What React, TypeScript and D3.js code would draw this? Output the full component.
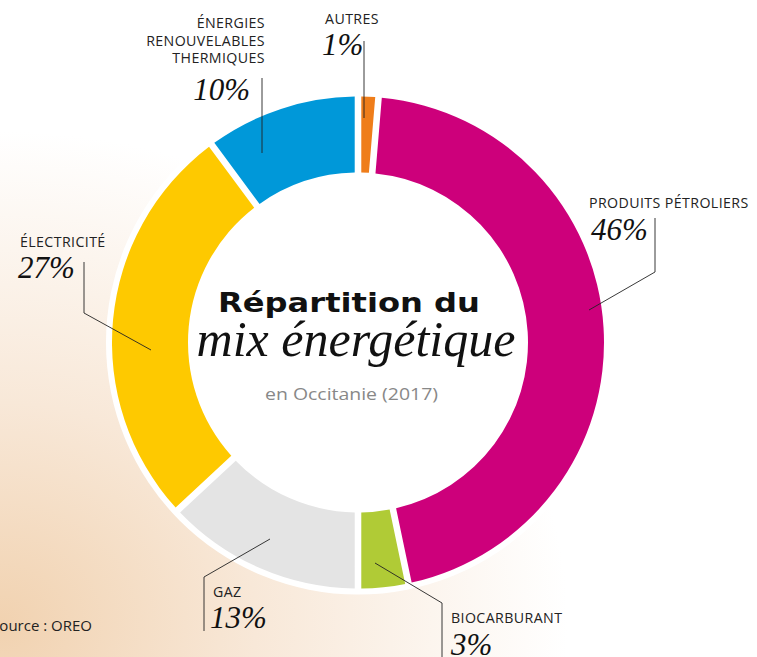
import React from "react";
import * as d3 from "d3";

// values (percent of the final energy mix)
const categories = [
  "Autres",
  "Produits pétroliers",
  "Biocarburant",
  "Gaz",
  "Électricité",
  "Énergies renouvelables thermiques",
];
const shares = [1, 46, 3, 13, 27, 10];
const colors = ["#ef7d1a", "#cd007b", "#b0cb36", "#e4e4e4", "#fec900", "#0098d9"];

// label text: upper-case lines + the percentage
const labelLines = [
  ["AUTRES"],
  ["PRODUITS PÉTROLIERS"],
  ["BIOCARBURANT"],
  ["GAZ"],
  ["ÉLECTRICITÉ"],
  ["ÉNERGIES", "RENOUVELABLES", "THERMIQUES"],
];

// where each label sits and how its leader line runs
const labelLayout = [
  { x: 379, y: 24, anchor: "end", pctX: 322, pctY: 55, pctAnchor: "start", line: [[364, 41], [364, 118]] },
  { x: 589, y: 208, anchor: "start", pctX: 591, pctY: 240, pctAnchor: "start", line: [[655, 218], [655, 272], [589, 310]] },
  { x: 451, y: 623, anchor: "start", pctX: 451, pctY: 655, pctAnchor: "start", line: [[375, 563], [442, 603], [442, 660]] },
  { x: 213, y: 597, anchor: "start", pctX: 210, pctY: 628, pctAnchor: "start", line: [[270, 539], [204, 577], [204, 631]] },
  { x: 20, y: 247, anchor: "start", pctX: 18, pctY: 278, pctAnchor: "start", line: [[84, 262], [84, 313], [151, 350]] },
  { x: 265, y: 28, anchor: "end", pctX: 250, pctY: 100, pctAnchor: "end", line: [[262, 78], [262, 153]] },
];

const W = 757;
const H = 657;
const cx = 358;
const cy = 342.5;
const outerR = 246;
const innerR = 170;

const sans = "'Open Sans', Lato, sans-serif";
const bold = "'DejaVu Sans', 'Open Sans', sans-serif";
const script = "'Liberation Serif', 'DejaVu Serif', serif";

export default function App() {
  const data = categories.map((c, i) => ({ name: c, value: shares[i], i }));
  const pie = d3
    .pie<any>()
    .value((d) => d.value)
    .sort(null)
    .padAngle(0.022);
  const arcs = pie(data);
  const arc = d3.arc<any>().innerRadius(innerR).outerRadius(outerR);
  const lineGen = d3.line();

  return (
    <svg
      width={W}
      height={H}
      style={{ position: "absolute", left: 0, top: 0, display: "block" }}
    >
      <defs>
        <radialGradient id="peach" cx="0" cy="0.95" r="0.75">
          <stop offset="0" stopColor="#f1d2b0" />
          <stop offset="0.45" stopColor="#f8e8d8" />
          <stop offset="1" stopColor="#ffffff" />
        </radialGradient>
      </defs>
      <rect width={W} height={H} fill="url(#peach)" />

      <g transform={`translate(${cx},${cy})`}>
        <circle r={outerR + 6} fill="#ffffff" />
        {arcs.map((a, k) => (
          <path key={k} d={arc(a) as string} fill={colors[a.data.i]} />
        ))}
      </g>

      {/* leader lines */}
      {labelLayout.map((l, k) => (
        <path
          key={k}
          d={lineGen(l.line as [number, number][]) as string}
          fill="none"
          stroke="#222"
          strokeWidth={0.9}
        />
      ))}

      {/* labels */}
      {labelLayout.map((l, k) => (
        <g key={k}>
          {labelLines[k].map((t, j) => (
            <text
              key={j}
              x={l.x}
              y={l.y + j * 17.5}
              textAnchor={l.anchor as any}
              fontFamily={sans}
              fontSize={14.2}
              letterSpacing={0.4}
              fill="#222"
            >
              {t}
            </text>
          ))}
          <text
            x={l.pctX}
            y={l.pctY}
            textAnchor={l.pctAnchor as any}
            fontFamily={script}
            fontStyle="italic"
            fontSize={31}
            fill="#111"
          >
            {shares[k]}%
          </text>
        </g>
      ))}

      {/* centre title */}
      <text
        x={218}
        y={312}
        textLength={262}
        lengthAdjust="spacingAndGlyphs"
        fontFamily={bold}
        fontWeight={700}
        fontSize={27}
        fill="#111"
      >
        Répartition du
      </text>
      <text
        x={356}
        y={356}
        textAnchor="middle"
        fontFamily={script}
        fontStyle="italic"
        fontSize={50}
        fill="#111"
      >
        mix énergétique
      </text>
      <text
        x={265}
        y={400}
        textLength={173}
        lengthAdjust="spacingAndGlyphs"
        fontFamily={sans}
        fontSize={16.5}
        fill="#888"
      >
        en Occitanie (2017)
      </text>

      <text
        x={92}
        y={631}
        textAnchor="end"
        fontFamily={sans}
        fontSize={15}
        fill="#222"
      >
        Source : OREO
      </text>
    </svg>
  );
}
